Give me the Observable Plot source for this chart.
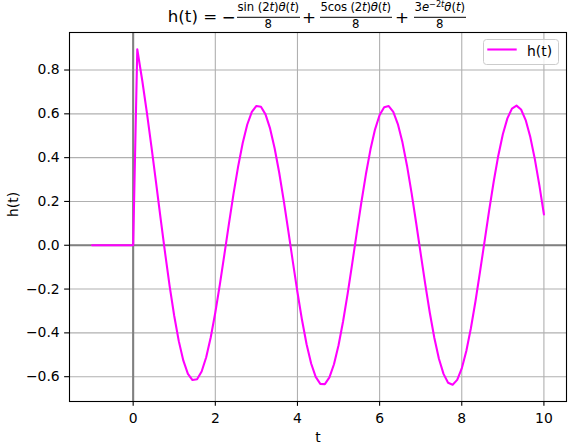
<!DOCTYPE html>
<html>
<head>
<meta charset="utf-8">
<script src="https://cdn.jsdelivr.net/npm/d3@7"></script>
<script src="https://cdn.jsdelivr.net/npm/@observablehq/plot@0.6"></script>
<style>
  body { margin: 0; background: #fff; }
  #wrap { position: relative; width: 571px; height: 445px; }
  #overlay { position: absolute; left: 0; top: 0; pointer-events: none; }
</style>
</head>
<body>
<div id="wrap"></div>
<script>
// Sample times (t) and values h(t)
const tValues = [
  -1, -0.889, -0.778, -0.667, -0.556, -0.444, -0.333, -0.222, -0.111, 0,
  0.1, 0.222, 0.333, 0.444, 0.556, 0.667, 0.778, 0.889, 1.0, 1.111,
  1.222, 1.333, 1.444, 1.556, 1.667, 1.778, 1.889, 2.0, 2.111, 2.222,
  2.333, 2.444, 2.556, 2.667, 2.778, 2.889, 3.0, 3.111, 3.222, 3.333,
  3.444, 3.556, 3.667, 3.778, 3.889, 4.0, 4.111, 4.222, 4.333, 4.444,
  4.556, 4.667, 4.778, 4.889, 5.0, 5.111, 5.222, 5.333, 5.444, 5.556,
  5.667, 5.778, 5.889, 6.0, 6.111, 6.222, 6.333, 6.444, 6.556, 6.667,
  6.778, 6.889, 7.0, 7.111, 7.222, 7.333, 7.444, 7.556, 7.667, 7.778,
  7.889, 8.0, 8.111, 8.222, 8.333, 8.444, 8.556, 8.667, 8.778, 8.889,
  9.0, 9.111, 9.222, 9.333, 9.444, 9.556, 9.667, 9.778, 9.889, 10.0
];
const hValues = [
  0, 0, 0, 0, 0, 0, 0, 0, 0, 0,
  0.895, 0.751, 0.6064, 0.451, 0.2887, 0.1244, -0.0363, -0.1874, -0.323, -0.4377,
  -0.5269, -0.5869, -0.6155, -0.6118, -0.5763, -0.5112, -0.4199, -0.3071, -0.1785, -0.0405,
  0.0998, 0.2356, 0.3601, 0.4671, 0.5513, 0.6085, 0.636, 0.6322, 0.5974, 0.5333,
  0.443, 0.331, 0.2027, 0.0645, -0.0769, -0.2145, -0.3415, -0.4517, -0.5397, -0.6012,
  -0.6331, -0.6338, -0.6033, -0.5432, -0.4564, -0.3471, -0.2208, -0.0836, 0.0577, 0.1962,
  0.3251, 0.4379, 0.5292, 0.5945, 0.6305, 0.6356, 0.6093, 0.5532, 0.4698, 0.3633,
  0.2389, 0.1028, -0.0384, -0.1777, -0.3082, -0.4236, -0.5181, -0.5872, -0.6274, -0.6367,
  -0.6147, -0.5625, -0.4827, -0.379, -0.2568, -0.1219, 0.019, 0.1589, 0.291, 0.4089,
  0.5066, 0.5794, 0.6237, 0.6373, 0.6196, 0.5714, 0.4951, 0.3945, 0.2745, 0.1409
];
const xTicks = [0, 2, 4, 6, 8, 10];
const yTicks = [-0.6, -0.4, -0.2, 0.0, 0.2, 0.4, 0.6, 0.8];
const seriesName = "h(t)";
const xLabel = "t";
const yLabel = "h(t)";

const data = tValues.map((t, i) => ({t, h: hValues[i]}));

const chart = Plot.plot({
  width: 571,
  height: 445,
  marginLeft: 69,
  marginRight: 5,
  marginTop: 32,
  marginBottom: 44,
  style: {fontFamily: "DejaVu Sans", fontSize: "13.9px", background: "white", color: "black"},
  x: {domain: [-1.55, 10.55], label: null},
  y: {domain: [-0.7133, 0.9713], label: null},
  marks: [
    Plot.gridX(xTicks, {stroke: "#b0b0b0", strokeOpacity: 1, strokeWidth: 1.1}),
    Plot.gridY(yTicks, {stroke: "#b0b0b0", strokeOpacity: 1, strokeWidth: 1.1}),
    Plot.ruleX([0], {stroke: "#808080", strokeWidth: 2.08}),
    Plot.ruleY([0], {stroke: "#808080", strokeWidth: 2.08}),
    Plot.line(data, {x: "t", y: "h", stroke: "#ff00ff", strokeWidth: 2.08}),
    Plot.frame({stroke: "black", strokeWidth: 1.1}),
    Plot.axisX(xTicks, {tickSize: 4.86, tickPadding: 6.5, strokeWidth: 1.1, label: null, tickFormat: d => String(d)}),
    Plot.axisY(yTicks, {tickSize: 4.86, tickPadding: 5, strokeWidth: 1.1, label: null, tickFormat: d3.format(".1f")}),
    Plot.text([xLabel], {text: d => d, frameAnchor: "bottom", dy: 40, lineAnchor: "bottom"}),
    Plot.text([yLabel], {text: d => d, frameAnchor: "left", dx: -52, rotate: -90, lineAnchor: "bottom"})
  ]
});

const wrap = document.getElementById("wrap");
wrap.appendChild(chart);

const ns = "http://www.w3.org/2000/svg";
const ov = document.createElementNS(ns, "svg");
ov.setAttribute("id", "overlay");
ov.setAttribute("width", 571);
ov.setAttribute("height", 445);
ov.setAttribute("font-family", "DejaVu Sans");
ov.innerHTML = `
  <g fill="black">
    <text x="167.8" y="21.7" font-size="16.67">h(t)</text>
    <text x="210.2" y="21.7" font-size="16.67" text-anchor="middle">=</text>
    <text x="228.8" y="22.6" font-size="16.67" text-anchor="middle">−</text>

    <text x="268.3" y="11.4" font-size="11.67" text-anchor="middle" textLength="61.5" lengthAdjust="spacing">sin (2<tspan font-style="italic">t</tspan>)<tspan font-style="italic">θ</tspan>(<tspan font-style="italic">t</tspan>)</text>
    <line x1="237" x2="300" y1="17.3" y2="17.3" stroke="black" stroke-width="1"/>
    <text x="268.3" y="28.3" font-size="11.67" text-anchor="middle">8</text>

    <text x="308.9" y="22.6" font-size="16.67" text-anchor="middle">+</text>

    <text x="355.8" y="11.4" font-size="11.67" text-anchor="middle" textLength="70.5" lengthAdjust="spacing">5cos (2<tspan font-style="italic">t</tspan>)<tspan font-style="italic">θ</tspan>(<tspan font-style="italic">t</tspan>)</text>
    <line x1="320" x2="392" y1="17.3" y2="17.3" stroke="black" stroke-width="1"/>
    <text x="355.8" y="28.3" font-size="11.67" text-anchor="middle">8</text>

    <text x="401.9" y="22.6" font-size="16.67" text-anchor="middle">+</text>

    <text x="439.8" y="11.4" font-size="11.67" text-anchor="middle" textLength="50.5" lengthAdjust="spacing">3<tspan font-style="italic">e</tspan><tspan font-size="8.2" dy="-4.5">−2<tspan font-style="italic">t</tspan></tspan><tspan font-style="italic" dy="4.5">θ</tspan>(<tspan font-style="italic">t</tspan>)</text>
    <line x1="414" x2="466" y1="17.3" y2="17.3" stroke="black" stroke-width="1"/>
    <text x="439.6" y="28.3" font-size="11.67" text-anchor="middle">8</text>
  </g>
  <rect x="483.5" y="39.5" width="75" height="25" rx="3" fill="white" fill-opacity="0.8" stroke="#cccccc" stroke-width="1"/>
  <line x1="487.3" x2="516.7" y1="49.5" y2="49.5" stroke="#ff00ff" stroke-width="2.08"/>
  <text x="527" y="56.4" font-size="13.9" fill="black">${seriesName}</text>
`;
wrap.appendChild(ov);
</script>
</body>
</html>
